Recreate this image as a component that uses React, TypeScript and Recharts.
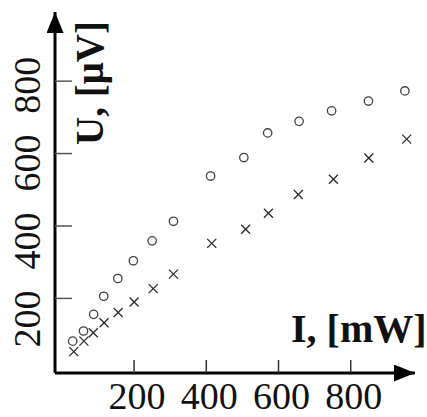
import React from 'react';
import { ScatterChart, Scatter, XAxis, YAxis, Label } from 'recharts';

// ---- data ----
const circleI = [30, 60, 88, 116, 155, 198, 250, 309, 412, 504, 570, 657, 747, 849, 950];
const circleU = [82, 110, 156, 206, 255, 304, 359, 413, 538, 589, 657, 689, 718, 745, 773];
const crossI = [33, 61, 87, 117, 156, 200, 253, 309, 415, 509, 572, 655, 752, 850, 955];
const crossU = [53, 82, 105, 133, 161, 190, 227, 267, 352, 391, 435, 487, 529, 588, 640];
const xTicks = [200, 400, 600, 800];
const yTicks = [200, 400, 600, 800];
const xDomain = [-19, 978];
const yDomain = [-6, 991];
const xLabel = 'I, [mW]';
const yLabel = 'U, [μV]';

const circleData = circleI.map((I, i) => ({ I, U: circleU[i] }));
const crossData = crossI.map((I, i) => ({ I, U: crossU[i] }));

const SERIF = '"Liberation Serif", "Times New Roman", serif';

const CircleMark = (p: any) => (
  <circle cx={p.cx} cy={p.cy} r={4.2} fill="none" stroke="#404040" strokeWidth={1.3} />
);

const CrossMark = (p: any) => {
  const s = 4.5;
  return (
    <g stroke="#2a2a2a" strokeWidth={1.3}>
      <line x1={p.cx - s} y1={p.cy - s} x2={p.cx + s} y2={p.cy + s} />
      <line x1={p.cx - s} y1={p.cy + s} x2={p.cx + s} y2={p.cy - s} />
    </g>
  );
};

// rotated y tick labels; the scanned original spreads them slightly wider than the ticks
const YTick = (p: any) => {
  const n = yTicks.length - 1;
  const dy = 4 + (n - (p.index ?? 0)) * 5.5;
  const y = p.y + dy;
  return (
    <text
      x={p.x}
      y={y}
      transform={`rotate(-90 ${p.x} ${y})`}
      textAnchor="middle"
      fontFamily={SERIF}
      fontSize={38}
      fill="#111"
    >
      {p.payload.value}
    </text>
  );
};

const XTick = (p: any) => (
  <text
    x={p.x + 3}
    y={p.y}
    textAnchor="middle"
    fontFamily={SERIF}
    fontSize={38}
    fill="#111"
  >
    {p.payload.value}
  </text>
);

const XLabelContent = (props: any) => {
  const vb = props.viewBox || { x: 0, y: 0, width: 0, height: 0 };
  return (
    <text
      x={vb.x + 236}
      y={vb.y - 31}
      textAnchor="start"
      fontFamily={SERIF}
      fontWeight="bold"
      fontSize={40}
      fill="#111"
    >
      {xLabel}
    </text>
  );
};

const YLabelContent = (props: any) => {
  const vb = props.viewBox || { x: 0, y: 0, width: 0, height: 0 };
  const x = vb.x + vb.width + 48;
  const y = vb.y + 71;
  return (
    <text
      x={x}
      y={y}
      transform={`rotate(-90 ${x} ${y})`}
      textAnchor="middle"
      fontFamily={SERIF}
      fontWeight="bold"
      fontSize={39}
      fill="#111"
    >
      {yLabel}
    </text>
  );
};

export default function App() {
  return (
    <div style={{ position: 'absolute', left: 0, top: 0, width: 427, height: 417, background: '#fff' }}>
      <svg width={0} height={0} style={{ position: 'absolute' }}>
        <defs>
          <marker
            id="arrowHead"
            viewBox="0 0 21 17"
            refX={21}
            refY={8.5}
            markerWidth={21}
            markerHeight={17}
            markerUnits="userSpaceOnUse"
            orient="auto-start-reverse"
          >
            <path d="M0,0 L21,8.5 L0,17 Z" fill="#000" />
          </marker>
        </defs>
      </svg>
      <ScatterChart width={427} height={417} margin={{ top: 12, right: 12, bottom: 0, left: 10 }}>
        <XAxis
          type="number"
          dataKey="I"
          domain={xDomain}
          ticks={xTicks}
          interval={0}
          height={44}
          allowDataOverflow
          axisLine={{ stroke: '#000', strokeWidth: 3, markerEnd: 'url(#arrowHead)' }}
          tickLine={{ stroke: '#333', strokeWidth: 1.5 }}
          tickSize={-13}
          tickMargin={49}
          tick={XTick}
        >
          <Label content={XLabelContent} />
        </XAxis>
        <YAxis
          type="number"
          dataKey="U"
          domain={yDomain}
          ticks={yTicks}
          interval={0}
          width={45}
          allowDataOverflow
          axisLine={{ stroke: '#000', strokeWidth: 3, markerStart: 'url(#arrowHead)' }}
          tickLine={{ stroke: '#555', strokeWidth: 1.5 }}
          tickSize={-17}
          tickMargin={32}
          tick={YTick}
        >
          <Label content={YLabelContent} />
        </YAxis>
        <Scatter data={circleData} shape={CircleMark} isAnimationActive={false} />
        <Scatter data={crossData} shape={CrossMark} isAnimationActive={false} />
      </ScatterChart>
    </div>
  );
}
